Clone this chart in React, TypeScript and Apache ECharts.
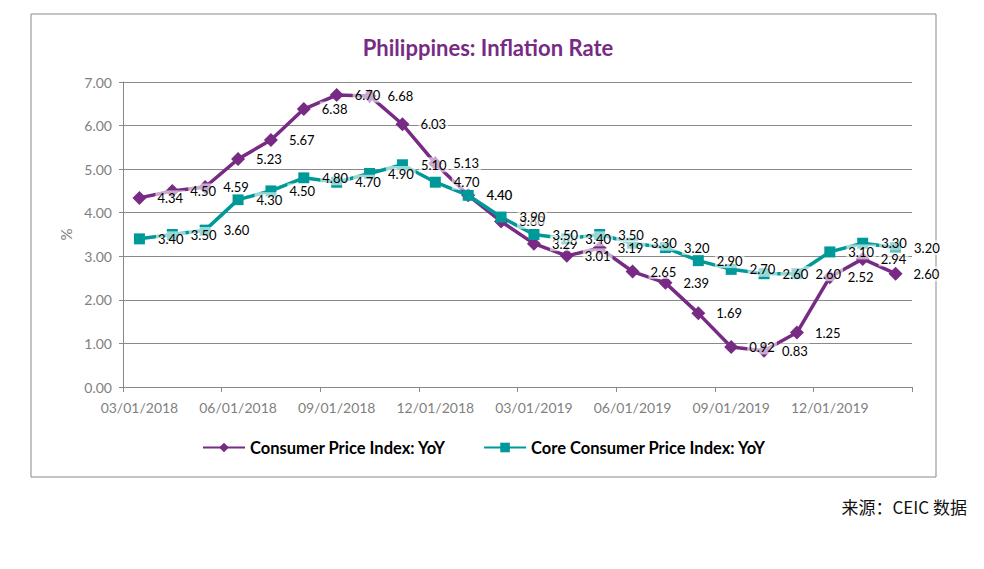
import React, { useEffect, useRef } from "react";
import * as echarts from "echarts";

const categories = [
  "03/01/2018", "04/01/2018", "05/01/2018", "06/01/2018", "07/01/2018", "08/01/2018",
  "09/01/2018", "10/01/2018", "11/01/2018", "12/01/2018", "01/01/2019", "02/01/2019",
  "03/01/2019", "04/01/2019", "05/01/2019", "06/01/2019", "07/01/2019", "08/01/2019",
  "09/01/2019", "10/01/2019", "11/01/2019", "12/01/2019", "01/01/2020", "02/01/2020",
];
const cpiValues = [
  4.34, 4.5, 4.59, 5.23, 5.67, 6.38, 6.7, 6.68, 6.03, 5.13, 4.4, 3.8,
  3.29, 3.01, 3.19, 2.65, 2.39, 1.69, 0.92, 0.83, 1.25, 2.52, 2.94, 2.6,
];
const coreValues = [
  3.4, 3.5, 3.6, 4.3, 4.5, 4.8, 4.7, 4.9, 5.1, 4.7, 4.4, 3.9,
  3.5, 3.4, 3.5, 3.3, 3.2, 2.9, 2.7, 2.6, 2.6, 3.1, 3.3, 3.2,
];
const seriesNames = ["Consumer Price Index: YoY", "Core Consumer Price Index: YoY"];
const titleText = "Philippines: Inflation Rate";
const yAxisName = "%";
const sourceText = "来源：CEIC 数据";

const FONT = "Lato, 'Open Sans', 'Noto Sans', sans-serif";
const PURPLE = "#772B84";
const TEAL = "#00999A";
const GREY = "#898989";
const LABEL_GREY = "#7F7F7F";

export default function App() {
  const ref = useRef<HTMLDivElement>(null);
  useEffect(() => {
    if (!ref.current) return;
    const chart = echarts.init(ref.current, null, { renderer: "svg" });
    const dataLabel = (dist: number) => ({
      show: true,
      position: "right",
      distance: dist,
      color: "#000",
      fontFamily: FONT,
      fontSize: 13,
      backgroundColor: "rgba(255,255,255,0.6)",
      padding: [1, 2],
      formatter: (p: any) => Number(p.value).toFixed(2),
    });
    chart.setOption({
      animation: false,
      backgroundColor: "#fff",
      title: {
        text: titleText,
        left: 483,
        textAlign: "center",
        top: 31,
        textStyle: { color: PURPLE, fontFamily: FONT, fontWeight: "bold", fontSize: 22 },
      },
      grid: { left: 123, top: 82, right: 72, bottom: 182, containLabel: false },
      legend: {
        left: 197,
        top: 434,
        itemGap: 37,
        itemWidth: 42,
        itemHeight: 12,
        textStyle: { color: "#000", fontFamily: FONT, fontWeight: "bold", fontSize: 16.5 },
        data: seriesNames,
      },
      xAxis: {
        type: "category",
        data: categories,
        boundaryGap: true,
        axisLine: { lineStyle: { color: GREY, width: 1 } },
        axisTick: { show: true, interval: 2, length: 5, lineStyle: { color: GREY } },
        axisLabel: { interval: 2, color: LABEL_GREY, fontFamily: FONT, fontSize: 14, margin: 13 },
        splitLine: { show: false },
      },
      yAxis: {
        type: "value",
        min: 0,
        max: 7,
        interval: 1,
        name: yAxisName,
        nameLocation: "middle",
        nameGap: 50,
        nameRotate: 90,
        nameTextStyle: { color: LABEL_GREY, fontFamily: FONT, fontSize: 15 },
        axisLine: { show: true, lineStyle: { color: GREY, width: 1 } },
        axisTick: { show: true, length: 4, lineStyle: { color: GREY } },
        axisLabel: {
          color: LABEL_GREY,
          fontFamily: FONT,
          fontSize: 14,
          margin: 11,
          formatter: (v: number) => v.toFixed(2),
        },
        splitLine: { show: true, lineStyle: { color: GREY, width: 1 } },
      },
      series: [
        {
          name: seriesNames[0],
          type: "line",
          data: cpiValues,
          symbol: "diamond",
          symbolSize: 14,
          lineStyle: { color: PURPLE, width: 3.5 },
          itemStyle: { color: PURPLE },
          label: dataLabel(9),
        },
        {
          name: seriesNames[1],
          type: "line",
          data: coreValues,
          symbol: "rect",
          symbolSize: 11,
          lineStyle: { color: TEAL, width: 3.5 },
          itemStyle: { color: TEAL },
          label: dataLabel(11),
        },
      ],
      graphic: [
        {
          type: "rect",
          shape: { x: 31, y: 14, width: 905, height: 463 },
          style: { fill: "none", stroke: GREY, lineWidth: 1 },
          silent: true,
          z: -1,
        },
        {
          type: "text",
          x: 967,
          y: 498,
          style: {
            text: sourceText,
            fill: "#111",
            textAlign: "right",
            font: "17px 'Noto Sans CJK SC', sans-serif",
          },
        },
      ],
    });
    return () => chart.dispose();
  }, []);
  return (
    <div
      ref={ref}
      style={{ position: "fixed", left: 0, top: 0, width: 984, height: 569 }}
    />
  );
}
